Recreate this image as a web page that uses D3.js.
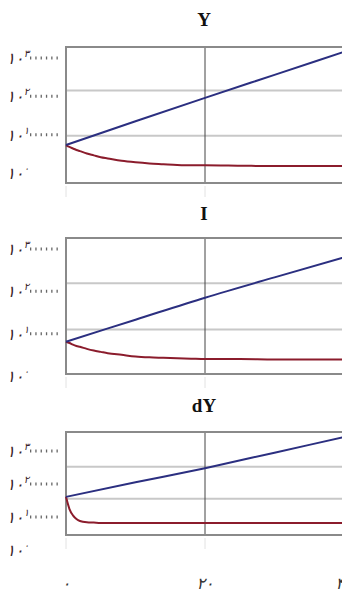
<!DOCTYPE html>
<meta charset="utf-8">
<script src="https://d3js.org/d3.v7.min.js"></script>
<style>
  body { margin: 0; background: #fff; }
</style>
<body>
<div id="chart"></div>
<script>
// time axis (years) and tick labels
var xTicks = [0, 20, 40];
var xTickLabels = ["۰", "۲۰", "۴۰"];
// y ticks are powers of ten (log10 units)
var yTicks = [0, 1, 2, 3];
var yTickLabels = ["۰", "۱", "۲", "۳"];

// blue path: balanced growth
var blueT = [0, 10, 20, 30, 40];
var blueY = [0.73, 1.35, 1.96, 2.56, 3.16];
var blueI = [0.81, 1.33, 1.85, 2.33, 2.80];
var blueDY = [1.61, 2.05, 2.48, 2.95, 3.42];

// red path: converges to steady state
var redT = [0, 0.5, 1, 1.5, 2, 3, 4, 5, 6, 8, 10, 12, 14, 16, 18, 20, 25, 30, 35, 40];
var redY = [0.73, 0.68, 0.64, 0.60, 0.57, 0.51, 0.46, 0.41, 0.38, 0.32, 0.28, 0.25, 0.23, 0.21, 0.20, 0.20, 0.19, 0.18, 0.18, 0.18];
var redI = [0.81, 0.78, 0.74, 0.71, 0.69, 0.64, 0.60, 0.57, 0.54, 0.50, 0.46, 0.44, 0.43, 0.42, 0.41, 0.40, 0.40, 0.39, 0.39, 0.39];
var redDY = [1.61, 1.24, 1.05, 0.94, 0.88, 0.84, 0.83, 0.82, 0.82, 0.82, 0.82, 0.82, 0.82, 0.82, 0.82, 0.82, 0.82, 0.82, 0.82, 0.82];

// horizontal grid lines (log10 units)
var gridY = [0.97, 2.15];
var gridI = [1.10, 2.19];
var gridDY = [1.55, 2.52];

var panels = [
  { title: "Y",  blue: blueY,  red: redY,  grid: gridY,  titleY: 26,  top: 47,  bottom: 183, y0: 173, y3: 58 },
  { title: "I",  blue: blueI,  red: redI,  grid: gridI,  titleY: 220, top: 238, bottom: 374, y0: 376, y3: 249 },
  { title: "dY", blue: blueDY, red: redDY, grid: gridDY, titleY: 412, top: 432, bottom: 535, y0: 550, y3: 451 }
];

var width = 342, height = 601;
var svg = d3.select("#chart").append("svg")
  .attr("width", width)
  .attr("height", height);

var x = d3.scaleLinear().domain([0, 40]).range([66, 344]);

panels.forEach(function(p, i) {
  var y = d3.scaleLinear().domain([0, 3]).range([p.y0, p.y3]);
  var g = svg.append("g");

  // title
  g.append("text")
    .attr("x", 204)
    .attr("y", p.titleY)
    .attr("text-anchor", "middle")
    .style("font-family", "Liberation Serif, serif")
    .style("font-weight", "bold")
    .style("font-size", "19px")
    .attr("fill", "#111")
    .text(p.title);

  // grid lines
  g.selectAll(".grid")
    .data(p.grid)
    .enter()
    .append("line")
    .attr("x1", 67).attr("x2", 344)
    .attr("y1", function(d) { return y(d); })
    .attr("y2", function(d) { return y(d); })
    .attr("stroke", "#c8c8c8")
    .attr("stroke-width", 2);

  // vertical line at 20
  g.append("line")
    .attr("x1", x(20)).attr("x2", x(20))
    .attr("y1", p.top).attr("y2", p.bottom)
    .attr("stroke", "#444")
    .attr("stroke-width", 1);

  // small faint ticks below the box
  g.selectAll(".xt")
    .data(xTicks)
    .enter()
    .append("line")
    .attr("x1", function(d) { return x(d); })
    .attr("x2", function(d) { return x(d); })
    .attr("y1", p.bottom + 3).attr("y2", p.bottom + 14)
    .attr("stroke", "#e2e2e2")
    .attr("stroke-width", 1);

  // frame
  g.append("rect")
    .attr("x", 66).attr("y", p.top)
    .attr("width", 290).attr("height", p.bottom - p.top)
    .attr("fill", "none")
    .attr("stroke", "#8a8a8a")
    .attr("stroke-width", 2);

  // y tick labels 10^n with dotted leaders
  var ticks = g.selectAll(".yt")
    .data(yTicks)
    .enter()
    .append("g")
    .attr("transform", function(d) { return "translate(0," + y(d) + ")"; });

  ticks.filter(function(d) { return d > 0; })
    .append("line")
    .attr("x1", 30).attr("x2", 61)
    .attr("stroke", "#666")
    .attr("stroke-width", 3)
    .attr("stroke-dasharray", "1.3,4");

  var lab = ticks.append("text")
    .attr("x", 29)
    .attr("y", 6)
    .attr("text-anchor", "end")
    .style("font-family", "DejaVu Sans, sans-serif")
    .style("font-style", "italic")
    .style("font-size", "16px")
    .attr("fill", "#3a2428");
  lab.append("tspan").text("۱۰");
  lab.append("tspan")
    .attr("dy", -7)
    .style("font-size", "10px")
    .text(function(d, j) { return yTickLabels[j]; });

  // lines
  var line = d3.line()
    .x(function(d) { return x(d[0]); })
    .y(function(d) { return y(d[1]); })
    .curve(d3.curveMonotoneX);

  g.append("path")
    .datum(redT.map(function(t, j) { return [t, p.red[j]]; }))
    .attr("d", line)
    .attr("fill", "none")
    .attr("stroke", "#8b1c2c")
    .attr("stroke-width", 2);

  g.append("path")
    .datum(blueT.map(function(t, j) { return [t, p.blue[j]]; }))
    .attr("d", line)
    .attr("fill", "none")
    .attr("stroke", "#2b2f80")
    .attr("stroke-width", 2);
});

// x tick labels under the last panel
svg.selectAll(".xl")
  .data(xTicks)
  .enter()
  .append("text")
  .attr("x", function(d) { return x(d); })
  .attr("y", 589)
  .attr("text-anchor", "middle")
  .style("font-family", "DejaVu Sans, sans-serif")
  .style("font-style", "italic")
  .style("font-size", "16px")
  .attr("fill", "#333")
  .text(function(d, j) { return xTickLabels[j]; });
</script>
</body>
